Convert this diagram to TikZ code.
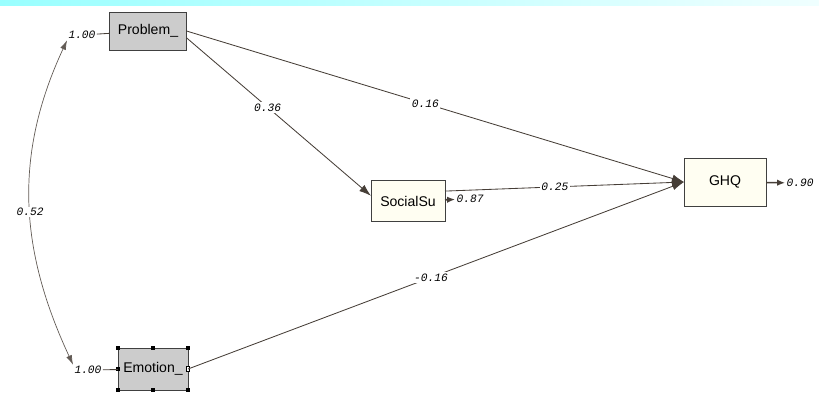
\documentclass[tikz,border=0pt]{standalone}
\usepackage{fontspec}
\setsansfont{Liberation Sans}
\setmonofont{Liberation Mono}
\usepackage{tkz-graph}
\usetikzlibrary{arrows.meta}

\definecolor{pathclr}{RGB}{70,62,55}
\tikzset{
  boxbase/.style={shape=rectangle, draw=black!75, line width=0.6pt, font=\sffamily, inner sep=0pt},
  coef/.style={font=\ttfamily\itshape\fontsize{8}{9}\selectfont},
}

\begin{document}
\begin{tikzpicture}
\useasboundingbox (0,0) rectangle (20.475,9.8);
\shade[left color=cyan!40, right color=cyan!6, draw=none] (0,9.675) rectangle (20.475,9.8);
\GraphInit[vstyle=Empty]
\SetVertexNormal
\tikzset{VertexStyle/.style ={boxbase, fill=gray!40, minimum width=1.925cm, minimum height=0.95cm}}
\Vertex[x=3.7, y=9.025, L=Problem\_]{P}
\tikzset{VertexStyle/.style ={boxbase, fill=gray!40, minimum width=1.75cm, minimum height=1.05cm}}
\Vertex[x=3.825, y=0.575, L=Emotion\_]{E}
\tikzset{VertexStyle/.style ={boxbase, fill=yellow!5, minimum width=1.85cm, minimum height=1.025cm}}
\Vertex[x=10.2, y=4.775, L=SocialSu]{S}
\tikzset{VertexStyle/.style ={boxbase, fill=yellow!5, minimum width=2.05cm, minimum height=1.2cm}}
\Vertex[x=18.125, y=5.25, L=GHQ]{G}
\tikzset{VertexStyle/.style ={coef, inner sep=1pt}}
\Vertex[x=2.05, y=8.925, L=1.00]{vP}
\Vertex[x=2.2, y=0.55, L=1.00]{vE}
\Vertex[x=11.75, y=4.825, L=0.87]{rS}
\Vertex[x=20.0, y=5.225, L=0.90]{rG}
% selection handles
\foreach \a in {north west, north, north east, west, south west, south, south east}
  \fill[black] ([xshift=-0.05cm, yshift=-0.05cm]E.\a) rectangle +(0.1,0.1);
\draw[black, fill=white, line width=0.6pt] ([xshift=-0.04cm, yshift=-0.06cm]E.east) rectangle +(0.08,0.12);
\tikzset{LabelStyle/.style ={coef, fill=white, inner sep=1pt}}
\tikzset{EdgeStyle/.style ={draw, -, line width=0.6pt, pathclr}}
\Edge(vP)(P)
\Edge(vE)(E)
\tikzset{EdgeStyle/.style ={draw, -{Latex[length=2mm, width=1.6mm]}, line width=1.1pt, pathclr}}
\Edge(S)(rS)
\Edge(G)(rG)
\tikzset{EdgeStyle/.style ={draw, -{Latex[length=3mm, width=2mm]}, line width=0.6pt, pathclr}}
\tikzset{LabelStyle/.append style ={pos=0.44}}
\Edge[label=0.36](P.-10)(S.172)
\tikzset{LabelStyle/.style ={coef, fill=white, inner sep=1pt, pos=0.48}}
\Edge[label=0.16](P.east)(G.west)
\tikzset{LabelStyle/.style ={coef, fill=white, inner sep=1pt, pos=0.46}}
\Edge[label=0.25](S.15)(G.west)
\tikzset{LabelStyle/.style ={coef, fill=white, inner sep=1pt, pos=0.49}}
\Edge[label=-0.16](E.east)(G.west)
\tikzset{EdgeStyle/.style ={draw, {Latex[length=2.4mm, width=1.5mm]}-{Latex[length=2.4mm, width=1.5mm]}, line width=0.5pt, pathclr!85, out=245, in=115}}
\tikzset{LabelStyle/.style ={coef, fill=white, inner sep=1pt, pos=0.53}}
\Edge[label=0.52](vP.south west)(vE.north west)
\end{tikzpicture}
\end{document}
